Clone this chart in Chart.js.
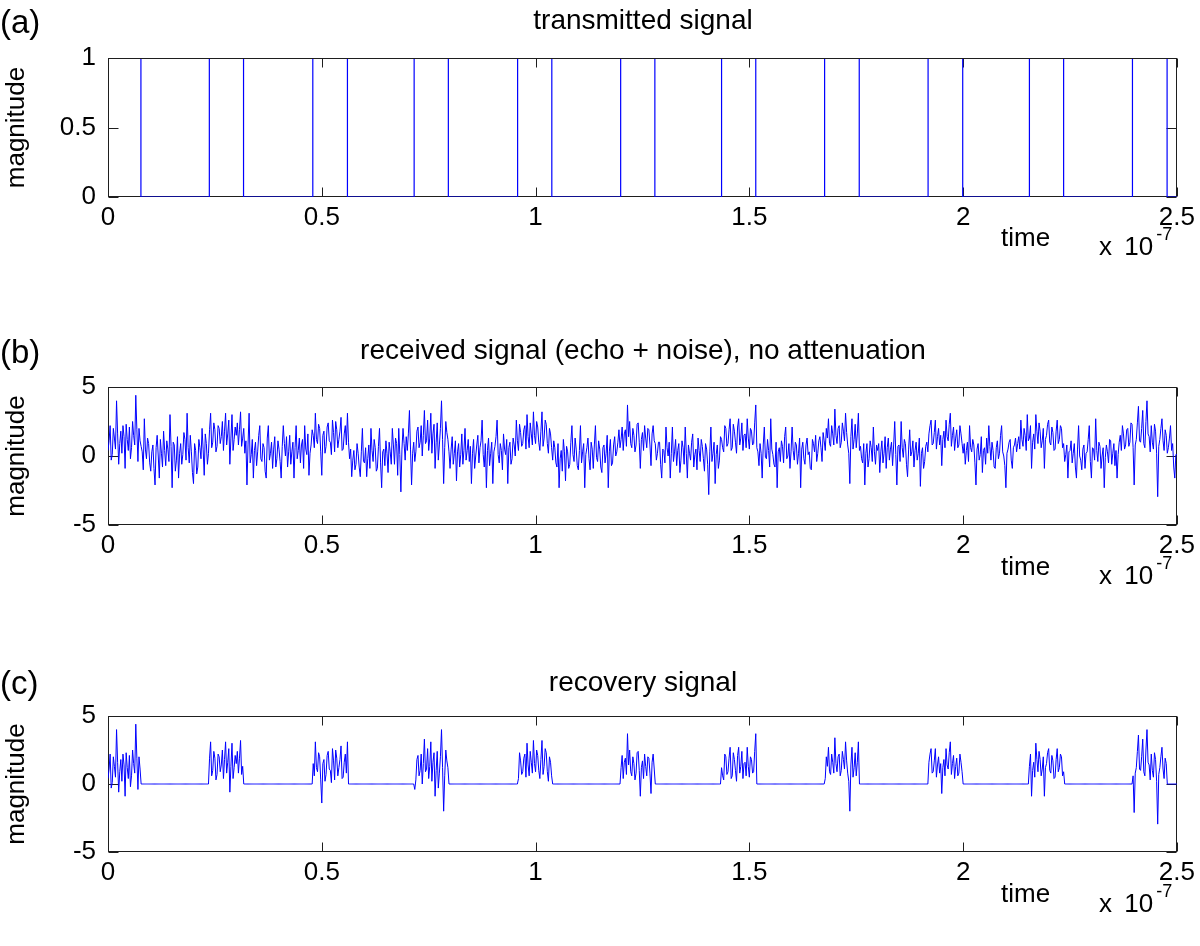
<!DOCTYPE html>
<html>
<head>
<meta charset="utf-8">
<script src="https://cdn.jsdelivr.net/npm/chart.js@4/dist/chart.umd.min.js"></script>
<style>
html,body{margin:0;padding:0;background:#fff;}
#wrap{position:relative;width:1200px;height:946px;overflow:hidden;font-family:"Liberation Sans",Arial,Helvetica,sans-serif;color:#000;}
canvas{position:absolute;left:0;}
.t{position:absolute;white-space:nowrap;}
.title{left:108px;width:1070px;text-align:center;font-size:28px;line-height:32px;}
.plab{left:0;font-size:33px;line-height:38px;}
.xl{font-size:26px;line-height:30px;}
.ex{font-size:26px;line-height:30px;word-spacing:5px;}
.sup{font-size:18px;position:relative;top:-15px;margin-left:3px;}
</style>
</head>
<body>
<div id="wrap">
<canvas id="cA" width="1200" height="300" style="top:0px"></canvas>
<canvas id="cB" width="1200" height="300" style="top:330px"></canvas>
<canvas id="cC" width="1200" height="286" style="top:660px"></canvas>

<div class="t plab" style="top:3px">(a)</div>
<div class="t plab" style="top:333px">(b)</div>
<div class="t plab" style="top:664px">(c)</div>

<div class="t title" style="top:4px">transmitted signal</div>
<div class="t title" style="top:334px">received signal (echo + noise), no attenuation</div>
<div class="t title" style="top:666px">recovery signal</div>

<div class="t xl" style="left:1001px;top:222px">time</div>
<div class="t ex" style="left:1099px;top:231px">x 10<span class="sup">-7</span></div>
<div class="t xl" style="left:1001px;top:551px">time</div>
<div class="t ex" style="left:1099px;top:560px">x 10<span class="sup">-7</span></div>
<div class="t xl" style="left:1001px;top:878px">time</div>
<div class="t ex" style="left:1099px;top:888px">x 10<span class="sup">-7</span></div>
</div>

<script>
// ---------- data (time in units of 1e-7 s) ----------
const xTicks = [0, 0.5, 1, 1.5, 2, 2.5];
const xTickLabels = ['0', '0.5', '1', '1.5', '2', '2.5'];
const yTicksTx = [0, 0.5, 1];
const yTickLabelsTx = ['0', '0.5', '1'];
const yTicksRx = [-5, 0, 5];
const yTickLabelsRx = ['-5', '0', '5'];

// transmitted pulse train: edge times and the level that holds from each edge
const txEdgeTimes = [0, 0.077, 0.237, 0.317, 0.479, 0.560, 0.716, 0.796, 0.958, 1.038, 1.199, 1.279,
                     1.435, 1.515, 1.676, 1.757, 1.918, 1.999, 2.155, 2.235, 2.396, 2.477, 2.5];
const txLevels    = [1, 0, 1, 0, 1, 0, 1, 0, 1, 0, 1, 0,
                     1, 0, 1, 0, 1, 0, 1, 0, 1, 0, 0];

const sampleStep = 0.0025;

// received signal (echo + noise), one value per sample, 40 samples per row
const received = [
 0.4, 1.1, 2.2, -0.3, 0.1, 2.0, 1.3, 0.5, 4.0, 1.6, -0.6, 0.9, 1.8, 0.2, 2.2, 1.4, -0.9, 2.3, 1.2, 0.4, 2.1, -0.2, 0.6, 2.5, 1.5, 0.8, 4.4, 1.9, -0.4, 2.0, 1.1, 0.7, 0.3, -1.0, 2.7, 0.5, -0.2, 1.3, 0.9, -0.5,
 -1.1, 0.3, 0.8, -0.9, -2.1, 0.6, 1.5, 0.0, -1.6, 1.2, 0.2, -0.8, 1.8, 0.4, -0.7, 1.1, 0.5, -0.4, 3.0, 0.7, -2.3, 1.0, 0.8, -1.1, -0.3, 1.4, -1.6, 0.2, 0.9, -0.6, 0.1, 1.7, 1.2, -0.3, 3.1, 0.6, -0.5, 1.5, 0.3, -1.2,
 -2.0, 0.9, 0.4, -1.3, -0.8, 1.2, 0.6, -0.2, 2.0, 0.5, -1.4, 1.6, 0.9, -0.6, 0.2, 1.9, 3.1, 0.6, 1.0, 2.4, 1.9, 0.3, 0.7, 2.2, 2.0, 0.9, 1.4, 2.5, 0.4, 1.8, 3.1, 0.8, 1.6, 2.6, -0.6, 1.3, 3.0, 0.4, 1.2, 2.1,
 1.5, 2.4, 0.8, 1.9, 3.2, 0.7, 1.3, 2.0, 0.2, 1.1, -2.1, 0.8, 3.1, -0.5, 0.1, 1.2, -1.6, 0.4, 1.0, -0.7, 0.3, 1.5, 2.2, -0.2, -0.4, 0.9, 0.6, -1.1, -1.6, 1.3, 2.2, -0.3, 0.2, 1.0, -0.9, 0.5, 1.4, -0.8, -0.2, 1.1,
 0.5, -0.4, -1.6, 0.7, 2.2, 0.9, 0.0, 1.4, -0.8, 0.3, 1.5, -0.6, 0.3, 1.0, -1.6, 0.6, 2.2, -0.2, 0.4, 1.3, -0.5, 0.8, 1.2, -0.9, 2.2, 0.5, 0.1, 1.6, -1.4, 0.2, 0.8, 1.9, 1.5, 0.6, 3.1, 1.2, 0.9, 2.3, 2.0, 0.3,
 -1.4, 1.5, 1.8, 0.2, 0.7, 2.1, 2.4, 1.1, 1.0, 0.1, 2.6, 1.7, 0.3, 2.5, 1.9, 0.6, 1.2, 1.8, 2.8, 0.4, 0.5, 1.6, 2.2, 0.8, 3.1, 1.0, -0.2, 0.5, -1.5, -0.3, 0.4, -1.0, -0.6, 0.9, 0.2, -0.8, -1.5, 0.3, 2.0, -0.4,
 -0.5, 0.6, -1.5, -0.2, 0.8, -0.9, 2.0, 0.4, -0.4, 1.2, 0.6, -1.1, -0.9, 0.7, 2.0, -0.5, -2.3, 0.3, 0.5, -0.7, 1.1, 0.2, -1.2, 1.0, 0.3, -0.6, 2.0, 0.8, -0.6, 1.3, 0.9, -1.4, 2.0, 0.1, -2.6, 0.5, 2.0, 0.9, -0.3, 1.4,
 0.4, 1.6, 3.3, 0.5, -2.1, 0.2, 1.0, -0.4, 0.3, 1.8, 2.1, 0.6, 1.0, 2.2, 0.0, 1.5, 3.3, 0.9, 1.1, 2.6, 0.4, 1.3, 3.1, 0.2, 1.6, 2.3, -0.9, 1.0, 2.4, -0.3, 0.8, 2.0, 4.0, 1.2, -2.0, 0.6, 2.5, 1.7, 1.2, 0.3,
 -0.9, 0.5, 1.4, -0.6, 0.2, 1.1, -1.8, 0.3, 0.9, -0.8, 0.1, 1.6, -0.6, 0.4, 2.0, -0.3, 0.4, 1.2, -0.4, 0.7, -2.0, 0.2, 1.2, -0.9, 0.0, 0.8, 1.5, -0.5, 0.6, 1.1, 2.6, 0.1, -0.8, 0.9, -2.3, 0.4, 1.3, -0.7, 0.2, 1.0,
 -2.0, 0.3, 0.7, 1.4, 2.6, 0.1, -0.5, 0.9, 0.4, -1.0, 1.6, 0.5, 0.1, 1.2, -2.0, 0.6, 1.0, -0.6, -0.2, 1.3, 0.8, 0.0, 2.6, 1.1, 0.4, 2.3, 1.7, 0.7, 0.9, 1.9, 2.2, 0.5, 3.0, 1.4, 0.6, 2.4, 1.6, 0.8, 3.2, 1.5,
 0.9, 2.5, 2.1, 1.0, 0.4, 1.8, 3.2, 0.7, 1.3, 2.6, 2.3, 0.9, 0.2, 2.0, 1.6, 0.6, -0.3, 1.1, 0.6, -0.5, -0.8, 0.9, -2.3, -0.2, 0.4, -1.1, 1.2, 0.3, -1.8, 0.7, 0.3, -0.9, -0.6, 1.0, 2.2, 0.1, -0.4, 1.3, 0.5, -0.7,
 -1.0, 0.4, 2.2, -0.5, 0.3, 0.9, -2.3, 0.1, 0.6, 1.3, -0.2, -1.0, 1.0, 0.5, -0.9, 0.8, 2.2, -0.1, -0.4, 1.1, 0.5, -0.8, -1.2, 0.6, 0.8, -0.5, 0.2, 1.5, -2.3, 0.3, 1.2, -0.7, -0.5, 0.8, 1.4, 0.0, 0.3, 1.0, 1.9, 0.6,
 1.2, 2.1, 0.4, 1.6, 1.9, 0.7, 3.7, 1.4, 2.5, 0.9, 0.6, 2.0, 1.5, 0.3, 0.8, 2.3, 2.4, 1.0, -0.9, 1.2, 1.7, 0.4, 2.2, 1.3, 0.6, 2.0, 1.9, 0.8, -0.7, 1.6, 2.2, 1.1, 0.9, -0.3, 0.2, 1.0, 1.0, -0.6, -1.6, 0.5,
 0.4, -0.5, 2.1, 0.6, 0.0, 1.0, -1.6, 0.2, 2.1, -0.4, 0.3, 1.2, -0.7, 0.4, 0.9, -1.2, -0.3, 1.1, 0.6, -0.6, 2.1, 0.2, -1.6, 0.8, 0.2, -0.3, 1.0, 1.6, -0.8, 0.1, 0.5, -1.0, 1.3, 0.4, -0.4, 1.2, 0.7, -0.2, -1.1, 0.9,
 0.5, -0.6, -2.8, 0.3, 2.1, -0.4, 0.2, 1.0, -2.0, 0.1, 0.8, -0.9, -0.3, 1.4, 1.2, 0.6, 0.3, 2.2, 2.0, 0.7, 0.9, 1.9, 2.7, 0.4, 0.6, 2.3, 1.8, 1.0, 0.2, 2.1, 2.7, 0.8, 1.3, 2.4, 0.4, 1.5, 1.6, 0.6, 2.7, 1.3,
 0.5, 2.0, 1.8, 0.8, 0.9, 2.4, 3.7, 0.6, 0.3, -0.7, 0.9, 0.2, -1.6, 0.8, 2.1, -0.1, -0.2, 1.2, 0.4, -0.8, 2.7, 0.5, 0.1, -0.6, -0.8, 1.0, -2.3, 0.3, 0.6, -0.4, 1.1, 0.7, -0.5, 1.4, 2.1, -0.2, 0.0, 0.9, -0.9, 0.3,
 2.1, 0.4, -0.3, 1.0, 0.8, -0.6, 0.2, 1.3, -2.3, 0.5, 1.0, -0.2, -0.6, 0.8, 1.3, 0.1, 0.3, -0.9, -1.0, 1.2, 0.9, 0.3, 1.5, -0.4, 0.2, 1.1, 1.4, 0.6, -0.4, 1.7, 1.1, 0.4, 2.0, 1.3, 2.7, 0.9, 0.7, 2.2, 1.6, 0.8,
 3.4, 1.5, 0.9, 2.0, 2.2, 0.6, 1.0, 2.4, 1.8, 1.1, 3.1, 1.7, 0.8, 0.2, -2.0, 1.4, 2.7, 0.5, 1.2, 2.3, 0.6, 1.6, 3.1, 0.4, 0.7, -0.2, -0.5, 0.9, -2.1, 0.2, 0.9, -0.8, -0.2, 1.1, 0.6, -0.4, 2.1, 0.3, -0.6, 0.8,
 0.4, 0.9, -1.2, 0.3, 1.1, -0.5, 0.2, 1.4, -0.9, 0.6, 1.3, -0.3, 0.5, 1.0, -0.7, 0.8, 2.5, 0.1, -2.1, 0.7, 0.8, -0.4, 2.5, 0.6, -0.1, 1.2, 0.9, -0.6, -1.5, 0.5, 1.9, 0.0, 0.3, 1.1, -0.8, 0.4, 1.0, -0.3, 0.2, 1.3,
 -2.2, 0.2, 0.6, -0.9, -0.4, 0.7, 1.0, 0.3, 1.6, 2.2, 2.6, 0.8, 0.9, 1.7, 2.6, 0.5, 1.4, 2.0, 0.8, 1.5, -0.7, 1.2, 1.8, 0.6, 2.6, 1.4, 1.1, 2.3, 3.1, 0.7, 1.5, 2.1, 0.4, 1.3, 1.9, 0.6, 0.8, 2.2, 1.6, 0.9,
 0.2, 0.9, -0.6, 0.4, 1.0, -0.4, 2.2, 0.6, 0.3, 1.2, 0.8, -0.5, -2.1, 0.5, 0.9, -0.3, 0.1, 1.4, -1.2, 0.4, 0.6, -0.6, 1.3, 0.2, 2.2, 0.7, -0.3, 1.0, 0.4, -0.8, -0.9, 0.6, 1.1, -0.2, 0.2, 1.5, 2.2, 0.3, 0.0, -0.7,
 -2.3, 0.2, 0.5, 1.0, 1.2, -0.3, -0.9, 0.6, 0.8, 1.3, 0.3, 0.9, 1.4, 0.5, 2.6, 1.2, 0.7, 2.0, 1.5, 0.4, 3.0, 1.1, 1.3, 2.2, -0.9, 1.0, 1.6, 0.5, 3.0, 1.8, 0.9, 2.4, 1.8, 0.6, 1.1, 2.0, -0.9, 1.2, 1.5, 2.3,
 2.6, 1.0, 0.8, 2.1, 1.7, 0.4, 0.5, 1.8, 2.6, 0.9, 1.2, 2.2, 2.0, 0.6, 0.9, -0.4, 0.1, 0.8, -1.6, 0.3, 0.4, 1.1, -0.5, 0.2, 0.9, -0.8, -1.6, 0.5, 2.2, 0.0, -0.3, -1.0, 0.5, 0.8, -0.9, 0.2, 0.3, 1.2, 2.2, -0.4,
 -1.6, 0.6, 0.5, -0.3, 2.7, 0.4, -0.4, 1.0, 0.7, -0.9, 0.0, 0.6, -2.3, -0.1, 0.8, 0.3, -0.5, 1.2, 1.1, -0.6, 0.2, 0.9, -0.7, 0.4, -1.6, 0.1, 1.0, 1.5, 0.4, 2.2, 1.6, 0.5, 0.8, 1.9, 2.0, 0.7, 1.0, 2.4, 2.3, 0.6,
 -2.1, 0.8, 1.2, 2.4, 3.6, 1.1, 1.0, 2.0, 3.3, 0.9, 0.6, 2.5, 4.0, 1.6, 1.4, 0.3, 2.2, 1.0, 0.5, 2.3, 1.8, 0.2, -2.95, 0.7, 1.2, 2.0, 2.7, 1.1, 0.4, 1.9, 1.5, 0.2, 0.6, 1.3, 2.2, 0.4, 0.9, -0.8, -1.6, 0.1,
 0.1
];

// recovery signal: received samples inside the pulse windows, zero elsewhere (40 samples per row)
const recovery = [
 0.4, 1.1, 2.2, -0.3, 0.1, 2.0, 1.3, 0.5, 4.0, 1.6, -0.6, 0.9, 1.8, 0.2, 2.2, 1.4, -0.9, 2.3, 1.2, 0.4, 2.1, -0.2, 0.6, 2.5, 1.5, 0.8, 4.4, 1.9, -0.4, 2.0, 1.1, 0, 0, 0, 0, 0, 0, 0, 0, 0,
 0, 0, 0, 0, 0, 0, 0, 0, 0, 0, 0, 0, 0, 0, 0, 0, 0, 0, 0, 0, 0, 0, 0, 0, 0, 0, 0, 0, 0, 0, 0, 0, 0, 0, 0, 0, 0, 0, 0, 0,
 0, 0, 0, 0, 0, 0, 0, 0, 0, 0, 0, 0, 0, 0, 0, 1.9, 3.1, 0.6, 1.0, 2.4, 1.9, 0.3, 0.7, 2.2, 2.0, 0.9, 1.4, 2.5, 0.4, 1.8, 3.1, 0.8, 1.6, 2.6, -0.6, 1.3, 3.0, 0.4, 1.2, 2.1,
 1.5, 2.4, 0.8, 1.9, 3.2, 0.7, 1.3, 0, 0, 0, 0, 0, 0, 0, 0, 0, 0, 0, 0, 0, 0, 0, 0, 0, 0, 0, 0, 0, 0, 0, 0, 0, 0, 0, 0, 0, 0, 0, 0, 0,
 0, 0, 0, 0, 0, 0, 0, 0, 0, 0, 0, 0, 0, 0, 0, 0, 0, 0, 0, 0, 0, 0, 0, 0, 0, 0, 0, 0, 0, 0, 0, 0, 1.5, 0.6, 3.1, 1.2, 0.9, 2.3, 2.0, 0.3,
 -1.4, 1.5, 1.8, 0.2, 0.7, 2.1, 2.4, 1.1, 1.0, 0.1, 2.6, 1.7, 0.3, 2.5, 1.9, 0.6, 1.2, 1.8, 2.8, 0.4, 0.5, 1.6, 2.2, 0.8, 3.1, 0, 0, 0, 0, 0, 0, 0, 0, 0, 0, 0, 0, 0, 0, 0,
 0, 0, 0, 0, 0, 0, 0, 0, 0, 0, 0, 0, 0, 0, 0, 0, 0, 0, 0, 0, 0, 0, 0, 0, 0, 0, 0, 0, 0, 0, 0, 0, 0, 0, 0, 0, 0, 0, 0, 0,
 0, 0, 0, 0, 0, 0, 0, -0.4, 0.3, 1.8, 2.1, 0.6, 1.0, 2.2, 0.0, 1.5, 3.3, 0.9, 1.1, 2.6, 0.4, 1.3, 3.1, 0.2, 1.6, 2.3, -0.9, 1.0, 2.4, -0.3, 0.8, 2.0, 4.0, 1.2, -2.0, 0.6, 2.5, 1.7, 1.2, 0,
 0, 0, 0, 0, 0, 0, 0, 0, 0, 0, 0, 0, 0, 0, 0, 0, 0, 0, 0, 0, 0, 0, 0, 0, 0, 0, 0, 0, 0, 0, 0, 0, 0, 0, 0, 0, 0, 0, 0, 0,
 0, 0, 0, 0, 0, 0, 0, 0, 0, 0, 0, 0, 0, 0, 0, 0, 0, 0, 0, 0, 0, 0, 0, 0, 0.4, 2.3, 1.7, 0.7, 0.9, 1.9, 2.2, 0.5, 3.0, 1.4, 0.6, 2.4, 1.6, 0.8, 3.2, 1.5,
 0.9, 2.5, 2.1, 1.0, 0.4, 1.8, 3.2, 0.7, 1.3, 2.6, 2.3, 0.9, 0.2, 2.0, 1.6, 0.6, 0, 0, 0, 0, 0, 0, 0, 0, 0, 0, 0, 0, 0, 0, 0, 0, 0, 0, 0, 0, 0, 0, 0, 0,
 0, 0, 0, 0, 0, 0, 0, 0, 0, 0, 0, 0, 0, 0, 0, 0, 0, 0, 0, 0, 0, 0, 0, 0, 0, 0, 0, 0, 0, 0, 0, 0, 0, 0, 0, 0, 0, 0, 0, 0,
 1.2, 2.1, 0.4, 1.6, 1.9, 0.7, 3.7, 1.4, 2.5, 0.9, 0.6, 2.0, 1.5, 0.3, 0.8, 2.3, 2.4, 1.0, -0.9, 1.2, 1.7, 0.4, 2.2, 1.3, 0.6, 2.0, 1.9, 0.8, -0.7, 1.6, 2.2, 1.1, 0, 0, 0, 0, 0, 0, 0, 0,
 0, 0, 0, 0, 0, 0, 0, 0, 0, 0, 0, 0, 0, 0, 0, 0, 0, 0, 0, 0, 0, 0, 0, 0, 0, 0, 0, 0, 0, 0, 0, 0, 0, 0, 0, 0, 0, 0, 0, 0,
 0, 0, 0, 0, 0, 0, 0, 0, 0, 0, 0, 0, 0, 0, 1.2, 0.6, 0.3, 2.2, 2.0, 0.7, 0.9, 1.9, 2.7, 0.4, 0.6, 2.3, 1.8, 1.0, 0.2, 2.1, 2.7, 0.8, 1.3, 2.4, 0.4, 1.5, 1.6, 0.6, 2.7, 1.3,
 0.5, 2.0, 1.8, 0.8, 0.9, 2.4, 3.7, 0, 0, 0, 0, 0, 0, 0, 0, 0, 0, 0, 0, 0, 0, 0, 0, 0, 0, 0, 0, 0, 0, 0, 0, 0, 0, 0, 0, 0, 0, 0, 0, 0,
 0, 0, 0, 0, 0, 0, 0, 0, 0, 0, 0, 0, 0, 0, 0, 0, 0, 0, 0, 0, 0, 0, 0, 0, 0, 0, 0, 0, 0, 0, 0, 0.4, 2.0, 1.3, 2.7, 0.9, 0.7, 2.2, 1.6, 0.8,
 3.4, 1.5, 0.9, 2.0, 2.2, 0.6, 1.0, 2.4, 1.8, 1.1, 3.1, 1.7, 0.8, 0.2, -2.0, 1.4, 2.7, 0.5, 1.2, 2.3, 0.6, 1.6, 3.1, 0, 0, 0, 0, 0, 0, 0, 0, 0, 0, 0, 0, 0, 0, 0, 0, 0,
 0, 0, 0, 0, 0, 0, 0, 0, 0, 0, 0, 0, 0, 0, 0, 0, 0, 0, 0, 0, 0, 0, 0, 0, 0, 0, 0, 0, 0, 0, 0, 0, 0, 0, 0, 0, 0, 0, 0, 0,
 0, 0, 0, 0, 0, 0, 0, 0, 1.6, 2.2, 2.6, 0.8, 0.9, 1.7, 2.6, 0.5, 1.4, 2.0, 0.8, 1.5, -0.7, 1.2, 1.8, 0.6, 2.6, 1.4, 1.1, 2.3, 3.1, 0.7, 1.5, 2.1, 0.4, 1.3, 1.9, 0.6, 0.8, 2.2, 1.6, 0.9,
 0, 0, 0, 0, 0, 0, 0, 0, 0, 0, 0, 0, 0, 0, 0, 0, 0, 0, 0, 0, 0, 0, 0, 0, 0, 0, 0, 0, 0, 0, 0, 0, 0, 0, 0, 0, 0, 0, 0, 0,
 0, 0, 0, 0, 0, 0, 0, 0, 0, 0, 0, 0, 0, 0, 0, 0, 0, 0, 0, 0, 0, 0, 1.3, 2.2, -0.9, 1.0, 1.6, 0.5, 3.0, 1.8, 0.9, 2.4, 1.8, 0.6, 1.1, 2.0, -0.9, 1.2, 1.5, 2.3,
 2.6, 1.0, 0.8, 2.1, 1.7, 0.4, 0.5, 1.8, 2.6, 0.9, 1.2, 2.2, 2.0, 0.6, 0.9, 0, 0, 0, 0, 0, 0, 0, 0, 0, 0, 0, 0, 0, 0, 0, 0, 0, 0, 0, 0, 0, 0, 0, 0, 0,
 0, 0, 0, 0, 0, 0, 0, 0, 0, 0, 0, 0, 0, 0, 0, 0, 0, 0, 0, 0, 0, 0, 0, 0, 0, 0, 0, 0, 0, 0, 0, 0, 0, 0, 0, 0, 0, 0, 0, 0.6,
 -2.1, 0.8, 1.2, 2.4, 3.6, 1.1, 1.0, 2.0, 3.3, 0.9, 0.6, 2.5, 4.0, 1.6, 1.4, 0.3, 2.2, 1.0, 0.5, 2.3, 1.8, 0.2, -2.95, 0.7, 1.2, 2.0, 2.7, 1.1, 0.4, 1.9, 1.5, 0, 0, 0, 0, 0, 0, 0, 0, 0,
 0
];

// ---------- drawing ----------
const FONT = '"Liberation Sans", Arial, Helvetica, sans-serif';

const boxPlugin = {
  id: 'matlabBox',
  beforeDatasetsDraw(chart) {
    const {ctx, chartArea: a, scales: {x, y}} = chart;
    const L = Math.round(a.left) + 0.5, R = Math.round(a.right) - 0.5;
    const T = Math.round(a.top) + 0.5, B = Math.round(a.bottom) - 0.5;
    ctx.save();
    ctx.strokeStyle = '#1e1e1e';
    ctx.lineWidth = 1;
    ctx.strokeRect(L, T, R - L, B - T);
    ctx.beginPath();
    x.ticks.forEach(t => {
      const px = Math.round(x.getPixelForValue(t.value)) + 0.5;
      ctx.moveTo(px, B); ctx.lineTo(px, B - 9);
      ctx.moveTo(px, T); ctx.lineTo(px, T + 9);
    });
    y.ticks.forEach(t => {
      const py = Math.round(y.getPixelForValue(t.value)) + 0.5;
      ctx.moveTo(L, py); ctx.lineTo(L + 10, py);
      ctx.moveTo(R, py); ctx.lineTo(R - 10, py);
    });
    ctx.stroke();
    ctx.restore();
  },
  afterDatasetsDraw(chart) {
    const {ctx, chartArea: a} = chart;
    const L = Math.round(a.left) + 0.5, R = Math.round(a.right) - 0.5;
    const T = Math.round(a.top) + 0.5;
    ctx.save();
    ctx.strokeStyle = '#1e1e1e';
    ctx.lineWidth = 1;
    ctx.beginPath();
    ctx.moveTo(L - 0.5, T); ctx.lineTo(R + 0.5, T);
    ctx.stroke();
    ctx.restore();
  }
};

function makePanel(id, points, yTicks, yLabels, padTop, xAxisHeight, stepped, lw) {
  return new Chart(document.getElementById(id), {
    type: 'line',
    data: {
      datasets: [{
        data: points,
        borderColor: '#0000ff',
        borderWidth: lw,
        pointRadius: 0,
        fill: false,
        tension: 0,
        stepped: stepped
      }]
    },
    options: {
      responsive: false,
      animation: false,
      events: [],
      layout: {padding: {top: padTop, right: 22, left: 0, bottom: 0}},
      plugins: {legend: {display: false}, tooltip: {enabled: false}, title: {display: false}},
      scales: {
        x: {
          type: 'linear', min: xTicks[0], max: xTicks[xTicks.length - 1],
          grid: {display: false, drawTicks: false},
          border: {display: false},
          afterBuildTicks: s => { s.ticks = xTicks.map(v => ({value: v})); },
          afterFit: s => { s.height = xAxisHeight; },
          ticks: {
            color: '#000', font: {family: FONT, size: 26}, padding: 5, maxRotation: 0, autoSkip: false,
            callback: (v, i) => xTickLabels[i]
          }
        },
        y: {
          type: 'linear', min: yTicks[0], max: yTicks[yTicks.length - 1],
          grid: {display: false, drawTicks: false},
          border: {display: false},
          afterBuildTicks: s => { s.ticks = yTicks.map(v => ({value: v})); },
          afterFit: s => { s.width = 108; },
          ticks: {
            color: '#000', font: {family: FONT, size: 26}, padding: 12,
            callback: (v, i) => yLabels[i]
          },
          title: {display: true, text: 'magnitude', color: '#000', font: {family: FONT, size: 26}, padding: {top: 1, bottom: 0}}
        }
      }
    },
    plugins: [boxPlugin]
  });
}

const txPoints = txEdgeTimes.map((t, k) => ({x: t, y: txLevels[k]}));
const rxPoints = received.map((v, i) => ({x: i * sampleStep, y: v}));
const recPoints = recovery.map((v, i) => ({x: i * sampleStep, y: v}));

makePanel('cA', txPoints, yTicksTx, yTickLabelsTx, 58, 103, true, 1.2);
makePanel('cB', rxPoints, yTicksRx, yTickLabelsRx, 57, 105, false, 1);
makePanel('cC', recPoints, yTicksRx, yTickLabelsRx, 56, 94, false, 1);
</script>
</body>
</html>
